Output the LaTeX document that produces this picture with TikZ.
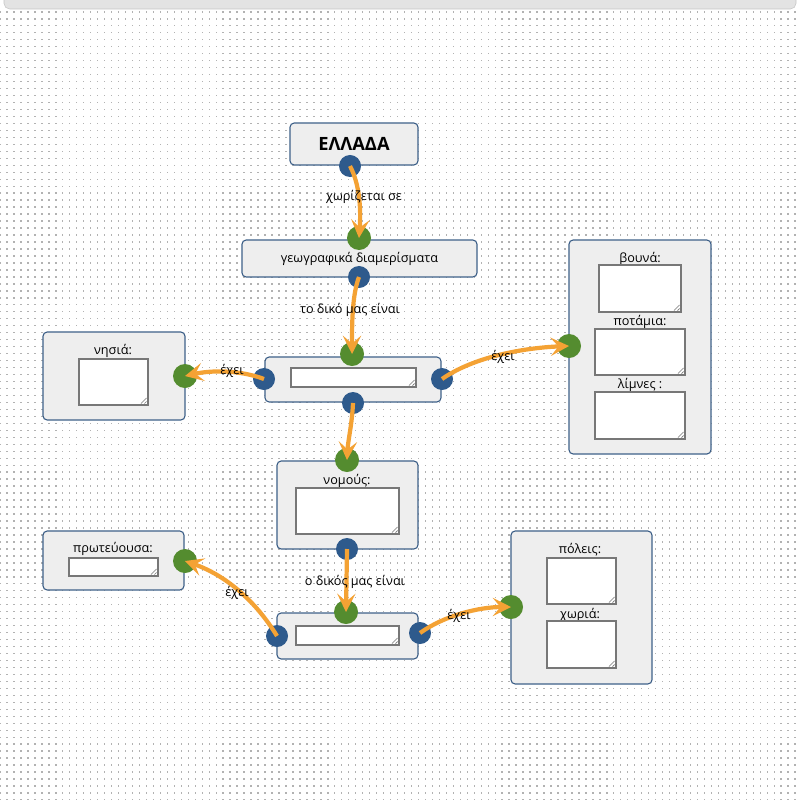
\documentclass[tikz,border=0pt]{standalone}
\usepackage{fontspec}
\setmainfont{Open Sans}
\usepackage{tikz}
\usetikzlibrary{arrows.meta}
\usetikzlibrary{patterns}
\definecolor{dotblue}{HTML}{2E5A8C}
\definecolor{dotgreen}{HTML}{548C2F}
\definecolor{floworange}{HTML}{F4A234}
\definecolor{boxline}{HTML}{3F6189}
\definecolor{boxfill}{HTML}{EEEEEE}
\definecolor{fieldline}{HTML}{777777}
\pgfdeclarepatternformonly{griddots}{\pgfqpoint{-1pt}{-1pt}}{\pgfqpoint{1pt}{1pt}}{\pgfqpoint{4.96pt}{4.96pt}}{\pgfpathrectangle{\pgfqpoint{-0.5pt}{-0.5pt}}{\pgfqpoint{1pt}{1pt}}\pgfusepath{fill}}
\tikzset{
  panel/.style={draw=boxline, fill=boxfill, rounded corners=3pt, line width=0.8pt, inner sep=0pt},
  field/.style={draw=fieldline, fill=white, line width=0.8pt, inner sep=0pt,
    path picture={\draw[fieldline, line width=0.4pt]
      ([shift={(-5pt,1pt)}]path picture bounding box.south east) -- ([shift={(-1pt,5pt)}]path picture bounding box.south east)
      ([shift={(-2.5pt,1pt)}]path picture bounding box.south east) -- ([shift={(-1pt,2.5pt)}]path picture bounding box.south east);}},
  bdot/.style={circle, fill=dotblue, minimum size=0.55cm, inner sep=0pt},
  gdot/.style={circle, fill=dotgreen, minimum size=0.6cm, inner sep=0pt},
  flow/.style={floworange, line width=3pt, -{Stealth[length=13pt,width=13pt,inset=5.5pt]}},
  lbl/.style={font=\fontsize{9}{11}\selectfont, inner sep=1pt},
}
\begin{document}
\begin{tikzpicture}[x=0.025cm,y=-0.025cm]
    \useasboundingbox (0,0) rectangle (800,800);
    \fill[white] (0,0) rectangle (800,800);
    \fill[pattern=griddots, pattern color=gray!60] (0,10) rectangle (800,800);
    \draw[gray!45, fill=gray!22, rounded corners=4pt] (4,-6) rectangle (796,9);

    \node[panel, minimum width=3.2cm, minimum height=1.05cm, font=\fontsize{13}{15}\selectfont\bfseries] (ellada) at (354,144) {ΕΛΛΑΔΑ};
    \node[panel, minimum width=5.875cm, minimum height=0.925cm, lbl] (geo) at (359.5,258.5) {γεωγραφικά διαμερίσματα};
    \node[panel, minimum width=4.4cm, minimum height=1.125cm] (diam) at (353,379.5) {};
    \node[field, minimum width=3.125cm, minimum height=0.475cm] (diamf) at (353.5,377.5) {};
    \node[panel, minimum width=3.55cm, minimum height=2.2cm] (nisia) at (114,376) {};
    \node[lbl] (nisial) at (113,351) {νησιά:};
    \node[field, minimum width=1.725cm, minimum height=1.15cm] (nisiaf) at (113.5,382) {};
    \node[panel, minimum width=3.55cm, minimum height=5.35cm] (fysi) at (640,347) {};
    \node[lbl] (vounal) at (640,259) {βουνά:};
    \node[field, minimum width=2.05cm, minimum height=1.175cm] (vounaf) at (640,288.5) {};
    \node[lbl] (potamial) at (640,322) {ποτάμια:};
    \node[field, minimum width=2.25cm, minimum height=1.15cm] (potamiaf) at (640,352) {};
    \node[lbl] (limnesl) at (640,385) {λίμνες :};
    \node[field, minimum width=2.25cm, minimum height=1.175cm] (limnesf) at (640,415.5) {};
    \node[panel, minimum width=3.525cm, minimum height=2.2cm] (nomoi) at (347.5,505) {};
    \node[lbl] (nomoil) at (347,481) {νομούς:};
    \node[field, minimum width=2.575cm, minimum height=1.15cm] (nomoif) at (347.5,511) {};
    \node[panel, minimum width=3.525cm, minimum height=1.15cm] (nomos) at (347.5,636) {};
    \node[field, minimum width=2.575cm, minimum height=0.475cm] (nomosf) at (347.5,635.5) {};
    \node[panel, minimum width=3.525cm, minimum height=1.475cm] (protev) at (113.5,560.5) {};
    \node[lbl] (protevl) at (113,549) {πρωτεύουσα:};
    \node[field, minimum width=2.225cm, minimum height=0.45cm] (protevf) at (113.5,567) {};
    \node[panel, minimum width=3.525cm, minimum height=3.825cm] (oikism) at (581.5,607.5) {};
    \node[lbl] (poleisl) at (580,550) {πόλεις:};
    \node[field, minimum width=1.725cm, minimum height=1.15cm] (poleisf) at (581.5,581) {};
    \node[lbl] (chorial) at (580,615) {χωριά:};
    \node[field, minimum width=1.725cm, minimum height=1.175cm] (choriaf) at (581.5,644.5) {};

    \node[bdot] (b1) at (350,166) {};
    \node[gdot] (g2) at (359,238) {};
    \node[bdot] (b2) at (359,277) {};
    \node[gdot] (g3) at (352,354) {};
    \node[bdot] (b3l) at (264,379) {};
    \node[bdot] (b3r) at (442,379) {};
    \node[bdot] (b3b) at (353,403) {};
    \node[gdot] (g4) at (185,376) {};
    \node[gdot] (g5) at (569,346) {};
    \node[gdot] (g6) at (347,460) {};
    \node[bdot] (b6) at (347,549) {};
    \node[gdot] (g7) at (346,612) {};
    \node[bdot] (b7l) at (277,636) {};
    \node[bdot] (b7r) at (420,633) {};
    \node[gdot] (g8) at (185,561) {};
    \node[gdot] (g9) at (511,607) {};

    \draw[flow] (b1.center) .. controls (360,185) and (361,210) .. (g2.center);
    \draw[flow] (b2.center) .. controls (352,295) and (352,325) .. (g3.center);
    \draw[flow] (b3l.center) .. controls (240,370) and (212,370) .. (g4.center);
    \draw[flow] (b3r.center) .. controls (472,358) and (520,348) .. (g5.center);
    \draw[flow] (b3b.center) .. controls (352,425) and (348,440) .. (g6.center);
    \draw[flow] (b6.center) -- (g7.center);
    \draw[flow] (b7l.center) .. controls (255,600) and (225,575) .. (g8.center);
    \draw[flow] (b7r.center) .. controls (445,615) and (480,607) .. (g9.center);

    \node[lbl] (l1) at (364,197) {χωρίζεται σε};
    \node[lbl] (l2) at (350,310) {το δικό μας είναι};
    \node[lbl] (l3) at (232,371) {έχει};
    \node[lbl] (l4) at (503,357) {έχει};
    \node[lbl] (l5) at (355,582) {ο δικός μας είναι};
    \node[lbl] (l6) at (237,593) {έχει};
    \node[lbl] (l7) at (459,616) {έχει};
\end{tikzpicture}
\end{document}
